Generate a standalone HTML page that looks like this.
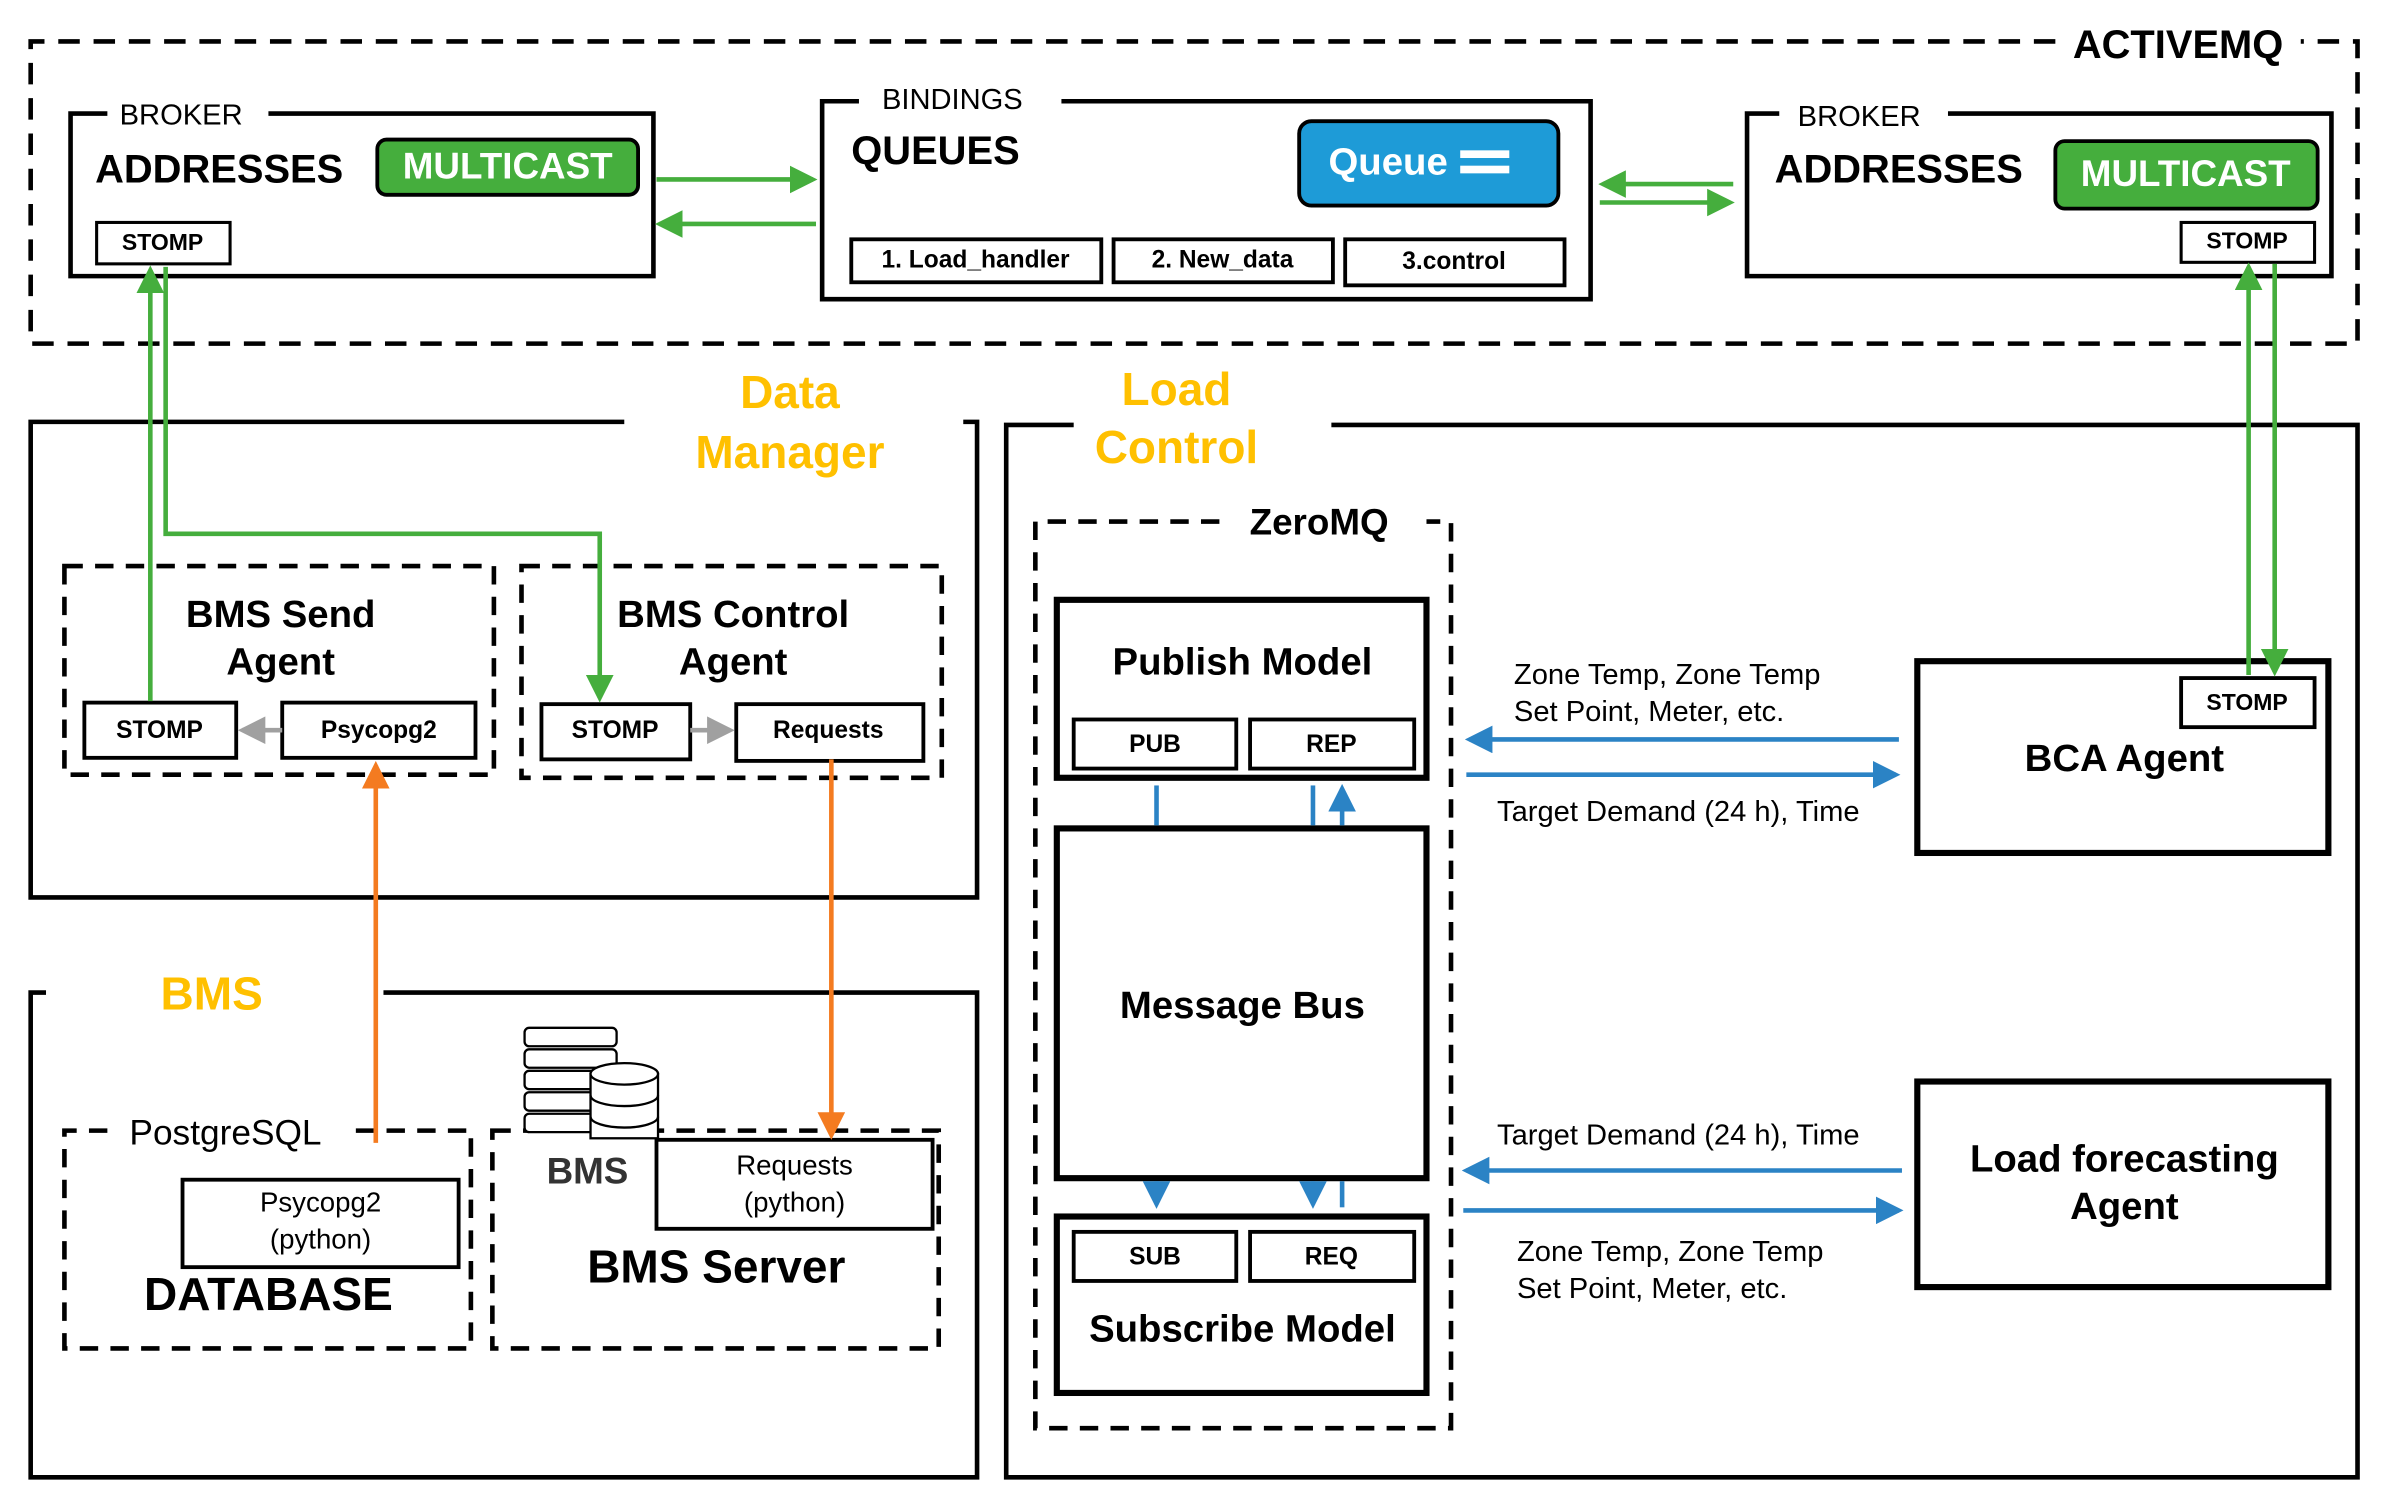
<!DOCTYPE html>
<html><head><meta charset="utf-8"><style>
html,body{margin:0;padding:0;background:#fff}
svg{display:block}
text{font-family:"Liberation Sans",Arial,sans-serif;dominant-baseline:middle}
.b{font-weight:bold}
</style></head><body>
<svg width="2402" height="1508" viewBox="0 0 1566 983" preserveAspectRatio="none" xmlns="http://www.w3.org/2000/svg">
<defs>
<marker id="g" markerWidth="6" markerHeight="6" refX="5" refY="3" orient="auto" markerUnits="strokeWidth"><path d="M0,0 L6,3 L0,6z" fill="#45AE3D"/></marker>
<marker id="o" markerWidth="6" markerHeight="6" refX="5" refY="3" orient="auto" markerUnits="strokeWidth"><path d="M0,0 L6,3 L0,6z" fill="#F47B20"/></marker>
<marker id="bl" markerWidth="6" markerHeight="6" refX="5" refY="3" orient="auto" markerUnits="strokeWidth"><path d="M0,0 L6,3 L0,6z" fill="#2B83C5"/></marker>
<marker id="gr" markerWidth="6" markerHeight="6" refX="5" refY="3" orient="auto" markerUnits="strokeWidth"><path d="M0,0 L6,3 L0,6z" fill="#A0A0A0"/></marker>
</defs>
<g fill="none" stroke="#000">
<!-- ActiveMQ -->
<path d="M1340,27 H20 V224 H1537 V27 H1500" stroke-width="3" stroke-dasharray="14,9"/>
<!-- brokers -->
<path d="M70,74 H46 V180 H426 V74 H175" stroke-width="3"/>
<path d="M560,66 H536 V195 H1037 V66 H692" stroke-width="3"/>
<path d="M1160,74 H1139 V180 H1520 V74 H1270" stroke-width="3"/>
<rect x="63" y="145" width="87" height="27" stroke-width="2"/>
<rect x="1422" y="145" width="87" height="26" stroke-width="2"/>
<rect x="555" y="156" width="163" height="28" stroke-width="2.5"/>
<rect x="726" y="156" width="143" height="28" stroke-width="2.5"/>
<rect x="877" y="156" width="143" height="30" stroke-width="2.5"/>
<!-- Data manager -->
<path d="M407,275 H20 V585 H637 V275 H628" stroke-width="3"/>
<rect x="42" y="369" width="280" height="136" stroke-width="3" stroke-dasharray="12,8"/>
<rect x="340" y="369" width="274" height="138" stroke-width="3" stroke-dasharray="12,8"/>
<rect x="55" y="458" width="99" height="36" stroke-width="2.5"/>
<rect x="184" y="458" width="126" height="36" stroke-width="2.5"/>
<rect x="353" y="459" width="97" height="36" stroke-width="2.5"/>
<rect x="480" y="459" width="122" height="37" stroke-width="2.5"/>
<!-- BMS -->
<path d="M30,647 H20 V963 H637 V647 H250" stroke-width="3"/>
<path d="M70,737 H42 V879 H307 V737 H232" stroke-width="3" stroke-dasharray="12,8"/>
<rect x="321" y="737" width="291" height="142" stroke-width="3" stroke-dasharray="12,8"/>
<rect x="119" y="769" width="180" height="57" stroke-width="2.5"/>
<rect x="428" y="743" width="180" height="58" stroke-width="2.5" fill="#fff"/>
<!-- Load control -->
<path d="M700,277 H656 V963 H1537 V277 H868" stroke-width="3"/>
<path d="M795,340 H675 V931 H946 V340 H930" stroke-width="3" stroke-dasharray="12,8"/>
<rect x="689" y="391" width="241" height="116" stroke-width="4"/>
<rect x="689" y="540" width="241" height="228" stroke-width="4"/>
<rect x="689" y="793" width="241" height="115" stroke-width="4"/>
<rect x="700" y="469" width="106" height="32" stroke-width="2.5"/>
<rect x="815" y="469" width="107" height="32" stroke-width="2.5"/>
<rect x="700" y="803" width="106" height="32" stroke-width="2.5"/>
<rect x="815" y="803" width="107" height="32" stroke-width="2.5"/>
<rect x="1250" y="431" width="268" height="125" stroke-width="4"/>
<rect x="1422" y="442" width="87" height="32" stroke-width="2.5"/>
<rect x="1250" y="705" width="268" height="134" stroke-width="4"/>
</g>
<!-- multicast / queue -->
<rect x="246" y="91" width="170" height="36" rx="6" fill="#45AE3D" stroke="#000" stroke-width="2.5"/>
<rect x="1340" y="92" width="171" height="44" rx="6" fill="#45AE3D" stroke="#000" stroke-width="2.5"/>
<rect x="847" y="79" width="169" height="55" rx="8" fill="#1E9BD7" stroke="#000" stroke-width="2.5"/>
<rect x="952" y="98" width="32" height="5" fill="#fff"/><rect x="952" y="108" width="32" height="5" fill="#fff"/>
<!-- BMS icon -->
<g stroke="#000" stroke-width="1.5" fill="#fff">
<rect x="342" y="670" width="60" height="12" rx="3"/><rect x="342" y="684" width="60" height="12" rx="3"/><rect x="342" y="698" width="60" height="12" rx="3"/><rect x="342" y="712" width="60" height="12" rx="3"/><rect x="342" y="726" width="60" height="12" rx="3"/>
<rect x="385" y="700" width="44" height="42"/><ellipse cx="407" cy="700" rx="22" ry="7"/><path d="M385,714 a22,7 0 0 0 44,0 M385,728 a22,7 0 0 0 44,0" fill="none"/>
</g>
<!-- arrows -->
<g fill="none" stroke-width="3">
<line x1="428" y1="117" x2="530" y2="117" stroke="#45AE3D" marker-end="url(#g)"/>
<line x1="532" y1="146" x2="430" y2="146" stroke="#45AE3D" marker-end="url(#g)"/>
<line x1="1130" y1="120" x2="1045" y2="120" stroke="#45AE3D" marker-end="url(#g)"/>
<line x1="1043" y1="132" x2="1128" y2="132" stroke="#45AE3D" marker-end="url(#g)"/>
<line x1="1466" y1="440" x2="1466" y2="174" stroke="#45AE3D" marker-end="url(#g)"/>
<line x1="1483" y1="172" x2="1483" y2="438" stroke="#45AE3D" marker-end="url(#g)"/>
<line x1="98" y1="457" x2="98" y2="176" stroke="#45AE3D" marker-end="url(#g)"/>
<polyline points="108,174 108,348 391,348 391,455" stroke="#45AE3D" marker-end="url(#g)"/>
<line x1="184" y1="476" x2="158" y2="476" stroke="#A0A0A0" marker-end="url(#gr)"/>
<line x1="450" y1="476" x2="476" y2="476" stroke="#A0A0A0" marker-end="url(#gr)"/>
<line x1="245" y1="745" x2="245" y2="499" stroke="#F47B20" marker-end="url(#o)"/>
<line x1="542" y1="495" x2="542" y2="740" stroke="#F47B20" marker-end="url(#o)"/>
<line x1="754" y1="512" x2="754" y2="538" stroke="#2B83C5"/>
<line x1="856" y1="512" x2="856" y2="538" stroke="#2B83C5"/>
<line x1="875" y1="538" x2="875" y2="514" stroke="#2B83C5" marker-end="url(#bl)"/>
<line x1="754" y1="770" x2="754" y2="785" stroke="#2B83C5" marker-end="url(#bl)"/>
<line x1="856" y1="770" x2="856" y2="785" stroke="#2B83C5" marker-end="url(#bl)"/>
<line x1="875" y1="770" x2="875" y2="787" stroke="#2B83C5"/>
<line x1="1238" y1="482" x2="958" y2="482" stroke="#2B83C5" marker-end="url(#bl)"/>
<line x1="956" y1="505" x2="1236" y2="505" stroke="#2B83C5" marker-end="url(#bl)"/>
<line x1="1240" y1="763" x2="956" y2="763" stroke="#2B83C5" marker-end="url(#bl)"/>
<line x1="954" y1="789" x2="1238" y2="789" stroke="#2B83C5" marker-end="url(#bl)"/>
</g>
<!-- text -->
<g fill="#000">
<text x="1420" y="31" class="b" font-size="26" text-anchor="middle">ACTIVEMQ</text>
<text x="78" y="76" font-size="19">BROKER</text>
<text x="62" y="112" class="b" font-size="26">ADDRESSES</text>
<text x="106" y="159" class="b" font-size="15" text-anchor="middle">STOMP</text>
<text x="575" y="66" font-size="19">BINDINGS</text>
<text x="555" y="100" class="b" font-size="26">QUEUES</text>
<text x="636" y="170" class="b" font-size="16" text-anchor="middle">1. Load_handler</text>
<text x="797" y="170" class="b" font-size="16" text-anchor="middle">2. New_data</text>
<text x="948" y="171" class="b" font-size="16" text-anchor="middle">3.control</text>
<text x="1172" y="77" font-size="19">BROKER</text>
<text x="1157" y="112" class="b" font-size="26">ADDRESSES</text>
<text x="1465" y="158" class="b" font-size="15" text-anchor="middle">STOMP</text>
<text x="183" y="402" class="b" font-size="25" text-anchor="middle">BMS Send</text>
<text x="183" y="433" class="b" font-size="25" text-anchor="middle">Agent</text>
<text x="478" y="402" class="b" font-size="25" text-anchor="middle">BMS Control</text>
<text x="478" y="433" class="b" font-size="25" text-anchor="middle">Agent</text>
<text x="104" y="477" class="b" font-size="16" text-anchor="middle">STOMP</text>
<text x="247" y="477" class="b" font-size="16" text-anchor="middle">Psycopg2</text>
<text x="401" y="477" class="b" font-size="16" text-anchor="middle">STOMP</text>
<text x="540" y="477" class="b" font-size="16" text-anchor="middle">Requests</text>
<text x="147" y="740" font-size="23" text-anchor="middle">PostgreSQL</text>
<text x="209" y="785" font-size="18" text-anchor="middle">Psycopg2</text>
<text x="209" y="809" font-size="18" text-anchor="middle">(python)</text>
<text x="175" y="846" class="b" font-size="30" text-anchor="middle">DATABASE</text>
<text x="383" y="765" class="b" font-size="24" text-anchor="middle" fill="#333">BMS</text>
<text x="518" y="761" font-size="18" text-anchor="middle">Requests</text>
<text x="518" y="785" font-size="18" text-anchor="middle">(python)</text>
<text x="467" y="828" class="b" font-size="30" text-anchor="middle">BMS Server</text>
<text x="860" y="342" class="b" font-size="24" text-anchor="middle">ZeroMQ</text>
<text x="810" y="433" class="b" font-size="25" text-anchor="middle">Publish Model</text>
<text x="753" y="486" class="b" font-size="16" text-anchor="middle">PUB</text>
<text x="868" y="486" class="b" font-size="16" text-anchor="middle">REP</text>
<text x="810" y="657" class="b" font-size="25" text-anchor="middle">Message Bus</text>
<text x="753" y="820" class="b" font-size="16" text-anchor="middle">SUB</text>
<text x="868" y="820" class="b" font-size="16" text-anchor="middle">REQ</text>
<text x="810" y="868" class="b" font-size="25" text-anchor="middle">Subscribe Model</text>
<text x="1465" y="459" class="b" font-size="15" text-anchor="middle">STOMP</text>
<text x="1385" y="496" class="b" font-size="25" text-anchor="middle">BCA Agent</text>
<text x="1385" y="757" class="b" font-size="25" text-anchor="middle">Load forecasting</text>
<text x="1385" y="788" class="b" font-size="25" text-anchor="middle">Agent</text>
<text x="987" y="441" font-size="19">Zone Temp, Zone Temp</text>
<text x="987" y="465" font-size="19">Set Point, Meter, etc.</text>
<text x="976" y="530" font-size="19">Target Demand (24 h), Time</text>
<text x="976" y="741" font-size="19">Target Demand (24 h), Time</text>
<text x="989" y="817" font-size="19">Zone Temp, Zone Temp</text>
<text x="989" y="841" font-size="19">Set Point, Meter, etc.</text>
</g>
<g fill="#fff" class="b">
<text x="331" y="110" class="b" font-size="24" text-anchor="middle">MULTICAST</text>
<text x="1425" y="115" class="b" font-size="24" text-anchor="middle">MULTICAST</text>
<text x="905" y="107" class="b" font-size="25" text-anchor="middle">Queue</text>
</g>
<g fill="#FFC000" class="b" font-size="30" text-anchor="middle">
<text x="515" y="258" class="b">Data</text>
<text x="515" y="297" class="b">Manager</text>
<text x="138" y="650" class="b">BMS</text>
<text x="767" y="256" class="b">Load</text>
<text x="767" y="294" class="b">Control</text>
</g>
</svg>
</body></html>
